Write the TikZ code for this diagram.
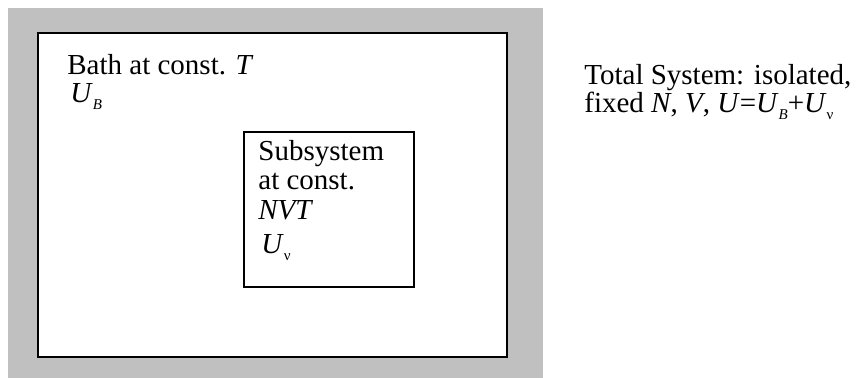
\documentclass[tikz,border=0pt]{standalone}
\usepackage{fontspec}
\setmainfont{Liberation Serif}
\definecolor{bathgray}{RGB}{192,192,192}
\newcommand{\lowsub}[1]{\raisebox{-0.5ex}{\fontsize{7.5}{7.5}\selectfont\textit{#1}}}

\begin{document}
\begin{tikzpicture}[x=0.5pt,y=-0.5pt,
  wall/.style={draw=black,line width=1.1pt,fill=white},
  lbl/.style={anchor=base west,inner sep=0pt,font=\fontsize{14.5}{14}\selectfont}]
  \useasboundingbox (0,0) rectangle (858,378);
  \fill[bathgray] (8,8) rectangle (543,378);
  % bath and subsystem
  \draw[wall] (38,33) rectangle (507,357);
  \draw[wall] (244,132) rectangle (414,287);
  \node[lbl] (bath) at (67,75) {Bath at const. \textit{T}};
  \node[lbl] (ub) at (70,103) {\textit{U}\lowsub{B}};
  \node[lbl] (sub1) at (258,161) {Subsystem};
  \node[lbl] (sub2) at (258,190) {at const.};
  \node[lbl] (sub3) at (258,220) {\textit{NVT}};
  \node[lbl] (uv) at (261,254) {\textit{U}\lowsub{\upshape ν}};
  % total system
  \node[lbl] (tot1) at (584,85) {Total System: isolated,};
  \node[lbl] (tot2) at (584,113) {fixed \textit{N}, \textit{V}, \textit{U}=\textit{U}\lowsub{B}+\textit{U}\lowsub{\upshape ν}};
\end{tikzpicture}
\end{document}
